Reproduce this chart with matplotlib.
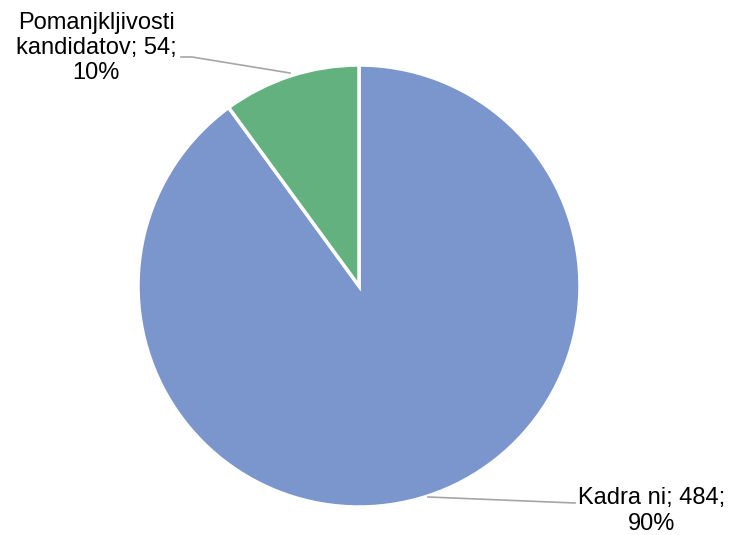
import matplotlib.pyplot as plt

labels = ['Kadra ni', 'Pomanjkljivosti\nkandidatov']
values = [484, 54]
percents = ['90%', '10%']
colors = ['#7B96CC', '#63B17F']

plt.rcParams['font.family'] = ['Liberation Sans', 'DejaVu Sans']

fig = plt.figure(figsize=(7.31, 5.35), dpi=100)
cx, cy, r = 359, 286, 221
ax = fig.add_axes([(cx - r) / 731, (535 - cy - r) / 535, 2 * r / 731, 2 * r / 535])
ax.pie(values, colors=colors, startangle=90, counterclock=False, radius=1,
       wedgeprops=dict(edgecolor='white', linewidth=2.5))
ax.set_xlim(-1, 1)
ax.set_ylim(-1, 1)
ax.set_aspect('equal')
ax.axis('off')

def px(x, y):
    return ((x - cx) / r, (cy - y) / r)

# leader lines
gx, gy = zip(px(181, 57), px(192, 57), px(290, 73))
ax.plot(gx, gy, color='#A6A6A6', lw=1.2, clip_on=False)
bx, by = zip(px(428, 497), px(575, 503))
ax.plot(bx, by, color='#A6A6A6', lw=1.2, clip_on=False)

t1 = px(96, 48)
ax.text(t1[0], t1[1], f'{labels[1]}; {values[1]};\n{percents[1]}', ha='center', va='center',
        fontsize=17, linespacing=1.2)
t2 = px(652, 511)
ax.text(t2[0], t2[1], f'{labels[0]}; {values[0]};\n{percents[0]}', ha='center', va='center',
        fontsize=17, linespacing=1.2)

fig.savefig('out.png', dpi=100)
